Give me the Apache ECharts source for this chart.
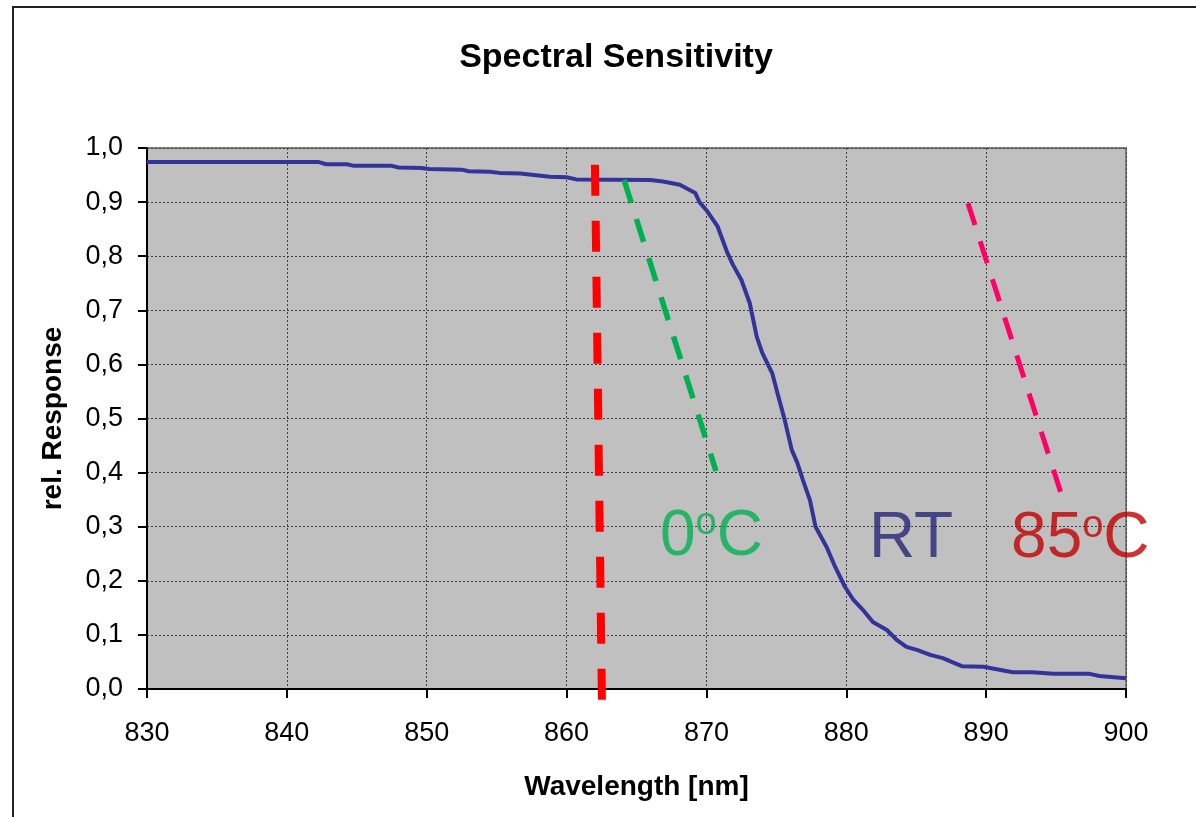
<!DOCTYPE html>
<html>
<head>
<meta charset="utf-8">
<script src="https://cdn.jsdelivr.net/npm/echarts@6/dist/echarts.min.js"></script>
<style>html,body{margin:0;padding:0;background:#fff}#c{width:1196px;height:817px}</style>
</head>
<body>
<div id="c"></div>
<script>
// Wavelength [nm] and relative response of the RT curve
const rtWavelength = [830, 842.3, 842.8, 844.3, 844.8, 847.5, 848, 849.6, 850.2, 852.5, 853, 854.5, 855.2, 856.7, 858.8, 860, 860.7, 866,
  866.9, 868.1, 869.2, 869.5, 870.0, 870.8, 871.5, 871.9, 872.5, 873.1, 873.6, 874.0, 874.7, 875.1, 875.6, 876.1, 876.5, 876.9,
  877.4, 877.8, 878.6, 879.2, 879.9, 880.5, 881.2, 881.9, 882.9, 883.6, 884.3, 885.1, 886.0, 886.9, 888.3, 889.8, 891.9, 893.3,
  894.8, 897.4, 898.1, 900];
const rtResponse = [0.974, 0.974, 0.970, 0.970, 0.967, 0.967, 0.964, 0.963, 0.961, 0.960, 0.957, 0.956, 0.954, 0.953, 0.947, 0.946, 0.942, 0.941,
  0.938, 0.932, 0.917, 0.900, 0.885, 0.855, 0.806, 0.784, 0.756, 0.713, 0.651, 0.621, 0.584, 0.545, 0.497, 0.442, 0.418, 0.386,
  0.349, 0.300, 0.262, 0.226, 0.189, 0.165, 0.146, 0.124, 0.109, 0.091, 0.078, 0.072, 0.063, 0.057, 0.042, 0.041, 0.031, 0.031,
  0.028, 0.028, 0.024, 0.020];
// Dashed marker lines (start, end)
const redLine = [[862.03, 0.969], [862.53, -0.026]];
const greenLine = [[864.11, 0.941], [870.68, 0.403]];
const pinkLine = [[888.70, 0.898], [895.35, 0.362]];
// Text annotations: [wavelength, response, label]
const annotations = [[866.68, 0.281, '0°C'], [881.62, 0.276, 'RT'], [891.78, 0.276, '85°C']];
const xTicks = [830, 840, 850, 860, 870, 880, 890, 900];
const yTicks = [0, 0.1, 0.2, 0.3, 0.4, 0.5, 0.6, 0.7, 0.8, 0.9, 1.0];

const FONT = 'Liberation Sans, Arial, sans-serif';
const rtData = rtWavelength.map((w, i) => [w, rtResponse[i]]);
const annColors = ['#00B050', '#262673', '#C00000'];

function richLabel(txt) {
  if (txt.indexOf('°') < 0) return '{m|' + txt + '}';
  const parts = txt.split('°');
  return '{m|' + parts[0] + '}{s|o}{m|' + parts[1] + '}';
}

const chart = echarts.init(document.getElementById('c'), null, {renderer: 'canvas'});
chart.setOption({
  backgroundColor: '#ffffff',
  animation: false,
  title: {
    text: 'Spectral Sensitivity',
    left: 611, top: 36, textAlign: 'center',
    textStyle: {fontFamily: FONT, fontWeight: 'bold', fontSize: 34, color: '#000'}
  },
  graphic: [{
    type: 'rect', silent: true, z: -1,
    shape: {x: 13, y: 7, width: 1300, height: 1000},
    style: {fill: null, stroke: '#222', lineWidth: 2}
  }],
  grid: {
    left: 147, right: 70, top: 148, bottom: 128,
    show: true, backgroundColor: '#C0C0C0', borderColor: '#808080', borderWidth: 2
  },
  xAxis: {
    type: 'value', min: 830, max: 900, interval: 10,
    name: 'Wavelength [nm]', nameLocation: 'middle', nameGap: 84,
    nameTextStyle: {fontFamily: FONT, fontWeight: 'bold', fontSize: 28, color: '#000'},
    axisLine: {show: true, onZero: false, lineStyle: {color: '#000', width: 2}},
    axisTick: {show: true, inside: false, length: 9, lineStyle: {color: '#000', width: 2}},
    axisLabel: {margin: 31, fontFamily: FONT, fontSize: 27, color: '#000',
      formatter: v => xTicks.indexOf(v) >= 0 ? String(v) : ''},
    splitLine: {show: true, lineStyle: {color: '#404040', width: 1, type: [2, 2]}}
  },
  yAxis: {
    type: 'value', min: 0, max: 1, interval: 0.1,
    name: 'rel. Response', nameLocation: 'middle', nameGap: 80, nameRotate: 90,
    nameTextStyle: {fontFamily: FONT, fontWeight: 'bold', fontSize: 28, color: '#000'},
    axisLine: {show: true, onZero: false, lineStyle: {color: '#000', width: 2}},
    axisTick: {show: true, inside: false, length: 9, lineStyle: {color: '#000', width: 2}},
    axisLabel: {margin: 24, fontFamily: FONT, fontSize: 27, color: '#000',
      formatter: v => {
        const t = yTicks.find(y => Math.abs(y - v) < 1e-6);
        return t === undefined ? '' : t.toFixed(1).replace('.', ',');
      }},
    splitLine: {show: true, lineStyle: {color: '#404040', width: 1, type: [2, 2]}}
  },
  series: [
    {
      type: 'line', name: 'RT', data: rtData, showSymbol: false, symbol: 'none',
      lineStyle: {color: '#333399', width: 4}, z: 3
    },
    {
      type: 'line', data: redLine, symbol: 'none', clip: false,
      lineStyle: {color: '#FF0000', width: 8, type: [31, 25]}, z: 4
    },
    {
      type: 'line', data: greenLine, symbol: 'none',
      lineStyle: {color: '#00B050', width: 5.5, type: [24, 17]}, z: 4
    },
    {
      type: 'line', data: pinkLine, symbol: 'none',
      lineStyle: {color: '#FF0066', width: 5, type: [23, 17]}, z: 4
    },
    {
      type: 'scatter', symbolSize: 0, clip: false, z: 5,
      data: annotations.map((a, i) => ({
        value: [a[0], a[1]],
        label: {
          show: true, position: [0, 0], align: 'left', verticalAlign: 'middle',
          formatter: richLabel(a[2]),
          rich: {
            m: {fontFamily: FONT, fontSize: 64, lineHeight: 64, color: annColors[i]},
            s: {fontFamily: FONT, fontSize: 38, lineHeight: 64, verticalAlign: 'top', color: annColors[i]}
          }
        }
      }))
    }
  ]
});
</script>
</body>
</html>
